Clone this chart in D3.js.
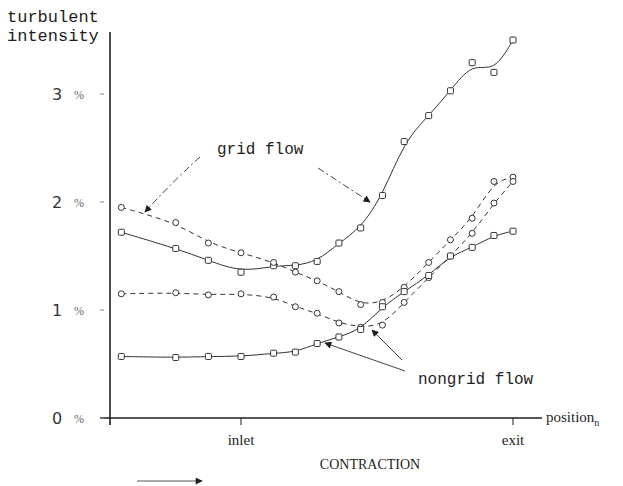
<!DOCTYPE html>
<html>
<head>
<meta charset="utf-8">
<script src="https://cdn.jsdelivr.net/npm/d3@7/dist/d3.min.js"></script>
<style>
  body { margin: 0; background: #fff; }
  svg { display: block; }
</style>
</head>
<body>
<svg id="chart" width="623" height="486"></svg>
<script>
// measurement stations along the tunnel (inlet = 0, exit = 1)
const positions = [-0.44, -0.24, -0.12, 0, 0.12, 0.2, 0.28, 0.36, 0.44, 0.52, 0.6, 0.69, 0.77, 0.85, 0.93, 1.0];

// turbulent intensity in %
const gridSquare    = [1.72, 1.57, 1.46, 1.35, 1.41, 1.41, 1.45, 1.62, 1.76, 2.06, 2.56, 2.80, 3.03, 3.29, 3.20, 3.50];
const gridCircle    = [1.95, 1.81, 1.62, 1.53, 1.44, 1.35, 1.27, 1.17, 1.05, 1.07, 1.21, 1.44, 1.65, 1.85, 2.19, 2.23];
const nongridCircle = [1.15, 1.16, 1.14, 1.15, 1.12, 1.03, 0.97, 0.88, 0.84, 0.86, 1.07, 1.30, 1.50, 1.71, 1.99, 2.19];
const nongridSquare = [0.57, 0.56, 0.57, 0.57, 0.60, 0.61, 0.69, 0.75, 0.82, 1.03, 1.17, 1.32, 1.50, 1.58, 1.69, 1.73];

const yTicks = [0, 1, 2, 3];
const xTicks = [0, 1];
const xTickLabels = ["inlet", "exit"];

const svg = d3.select("#chart");

const x = d3.scaleLinear().domain([0, 1]).range([241, 513]);
const y = d3.scaleLinear().domain([0, 3.5]).range([418, 40]);

const ink = "#1e1e1e";
const mono = "'Liberation Mono', 'DejaVu Sans Mono', monospace";
const serif = "'Liberation Serif', 'DejaVu Serif', serif";

// axes
const axisX = 110;
svg.append("line")
   .attr("x1", axisX).attr("x2", axisX)
   .attr("y1", 32).attr("y2", 425)
   .attr("stroke", ink).attr("stroke-width", 1.6);

svg.append("line")
   .attr("x1", 100).attr("x2", 542)
   .attr("y1", y(0)).attr("y2", y(0))
   .attr("stroke", ink).attr("stroke-width", 1.6);

svg.selectAll(".ytick")
   .data(yTicks)
   .enter()
   .append("line")
   .attr("x1", 100).attr("x2", 104)
   .attr("y1", d => y(d)).attr("y2", d => y(d))
   .attr("stroke", "#888").attr("stroke-width", 1);

svg.selectAll(".ylabel")
   .data(yTicks)
   .enter()
   .append("text")
   .attr("x", 57)
   .attr("y", d => y(d) + 6)
   .attr("text-anchor", "middle")
   .attr("font-family", "'DejaVu Sans', sans-serif")
   .attr("font-size", 16)
   .attr("fill", "#333")
   .text(d => d);

svg.selectAll(".ypct")
   .data(yTicks)
   .enter()
   .append("text")
   .attr("x", 79)
   .attr("y", d => y(d) + 5)
   .attr("text-anchor", "middle")
   .attr("font-family", serif)
   .attr("font-size", 12)
   .attr("fill", "#666")
   .text("%");

svg.selectAll(".xtick")
   .data(xTicks)
   .enter()
   .append("line")
   .attr("x1", d => x(d)).attr("x2", d => x(d))
   .attr("y1", y(0)).attr("y2", y(0) + 7)
   .attr("stroke", ink).attr("stroke-width", 1);

svg.selectAll(".xlabel")
   .data(xTicks)
   .enter()
   .append("text")
   .attr("x", d => x(d))
   .attr("y", 445)
   .attr("text-anchor", "middle")
   .attr("font-family", serif)
   .attr("font-size", 15)
   .attr("fill", ink)
   .text((d, i) => xTickLabels[i]);

svg.append("text")
   .attr("x", 370).attr("y", 469)
   .attr("text-anchor", "middle")
   .attr("font-family", serif)
   .attr("font-size", 14)
   .attr("fill", ink)
   .text("CONTRACTION");

const pos = svg.append("text")
   .attr("x", 546).attr("y", 422)
   .attr("font-family", serif)
   .attr("font-size", 15)
   .attr("fill", ink)
   .text("position");
pos.append("tspan")
   .attr("dy", 4)
   .attr("font-size", 10)
   .text("n");

svg.append("text")
   .attr("font-family", mono)
   .attr("font-size", 17)
   .attr("fill", ink)
   .selectAll("tspan")
   .data(["turbulent", "intensity"])
   .enter()
   .append("tspan")
   .attr("x", 7)
   .attr("y", (d, i) => 22 + i * 19)
   .text(d => d);

// flow direction arrow
const defs = svg.append("defs");
defs.append("marker")
    .attr("id", "head")
    .attr("viewBox", "0 0 10 10")
    .attr("refX", 9).attr("refY", 5)
    .attr("markerWidth", 10).attr("markerHeight", 7)
    .attr("markerUnits", "userSpaceOnUse")
    .attr("orient", "auto")
    .append("path")
    .attr("d", "M0,0 L10,5 L0,10 z")
    .attr("fill", ink);

svg.append("line")
   .attr("x1", 137).attr("x2", 202)
   .attr("y1", 481).attr("y2", 481)
   .attr("stroke", "#555").attr("stroke-width", 1)
   .attr("marker-end", "url(#head)");

// curves
const series = [
  { values: gridSquare,    dash: null,  shape: "square" },
  { values: gridCircle,    dash: "5,4", shape: "circle" },
  { values: nongridCircle, dash: "5,4", shape: "circle" },
  { values: nongridSquare, dash: null,  shape: "square" }
];

const line = d3.line()
  .x(d => x(d[0]))
  .y(d => y(d[1]))
  .curve(d3.curveBasis);

series.forEach(s => {
  const pts = positions.map((p, i) => [p, s.values[i]]);
  svg.append("path")
     .datum(pts)
     .attr("d", line)
     .attr("fill", "none")
     .attr("stroke", "#333")
     .attr("stroke-width", 1)
     .attr("stroke-dasharray", s.dash);

  const g = svg.append("g");
  if (s.shape === "circle") {
    g.selectAll("circle")
     .data(pts)
     .enter()
     .append("circle")
     .attr("cx", d => x(d[0]))
     .attr("cy", d => y(d[1]))
     .attr("r", 3)
     .attr("fill", "#fff")
     .attr("stroke", "#333")
     .attr("stroke-width", 1);
  } else {
    g.selectAll("rect")
     .data(pts)
     .enter()
     .append("rect")
     .attr("x", d => x(d[0]) - 3)
     .attr("y", d => y(d[1]) - 3)
     .attr("width", 6).attr("height", 6)
     .attr("rx", 1)
     .attr("fill", "#fff")
     .attr("stroke", "#333")
     .attr("stroke-width", 1);
  }
});

// annotations
svg.append("text")
   .attr("x", 217).attr("y", 154)
   .attr("font-family", mono)
   .attr("font-size", 16)
   .attr("fill", ink)
   .text("grid flow");

svg.append("text")
   .attr("x", 418).attr("y", 384)
   .attr("font-family", mono)
   .attr("font-size", 16)
   .attr("fill", ink)
   .text("nongrid flow");

const pointers = [
  { d: "M200,157 Q172,182 145,212", dash: "7,3,2,3" },
  { d: "M318,168 L370,202", dash: "7,3,2,3" },
  { d: "M405,371 L325,343", dash: null },
  { d: "M402,360 L372,330", dash: null }
];

svg.selectAll(".pointer")
   .data(pointers)
   .enter()
   .append("path")
   .attr("d", d => d.d)
   .attr("fill", "none")
   .attr("stroke", "#444")
   .attr("stroke-width", 1)
   .attr("stroke-dasharray", d => d.dash)
   .attr("marker-end", "url(#head)");
</script>
</body>
</html>
